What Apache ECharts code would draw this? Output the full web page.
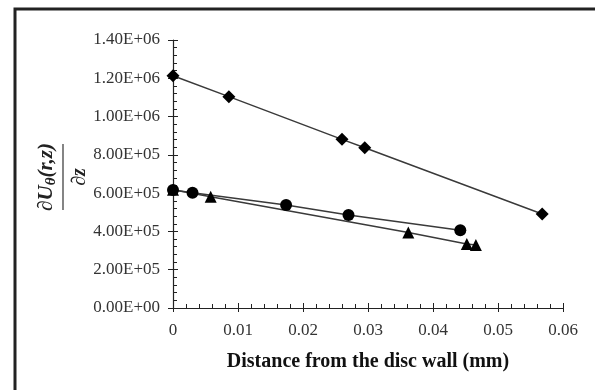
<!DOCTYPE html>
<html>
<head>
<meta charset="utf-8">
<script src="https://cdn.jsdelivr.net/npm/echarts@6/dist/echarts.min.js"></script>
<style>
  html, body { margin: 0; padding: 0; background: #fff; }
  #chart { width: 595px; height: 390px; }
</style>
</head>
<body>
<div id="chart"></div>
<script>
// distance from the wall (mm) and gradient values
var diamondX = [0, 0.0086, 0.0260, 0.0295, 0.0568];
var diamondY = [1.213e6, 1.104e6, 0.881e6, 0.837e6, 0.491e6];
var circleX = [0, 0.0030, 0.0174, 0.0270, 0.0442];
var circleY = [0.616e6, 0.602e6, 0.538e6, 0.486e6, 0.406e6];
var triangleX = [0, 0.0058, 0.0362, 0.0452, 0.0466];
var triangleY = [0.618e6, 0.581e6, 0.394e6, 0.334e6, 0.329e6];
var xTicks = { min: 0, max: 0.06, step: 0.01 };
var yTicks = { min: 0, max: 1.4e6, step: 2e5 };

function pairs(xs, ys) {
    return xs.map(function (x, i) { return [x, ys[i]]; });
}

function sci(v) {
    if (v === 0) return '0.00E+00';
    var e = Math.floor(Math.log10(v) + 1e-9);
    var m = v / Math.pow(10, e);
    return m.toFixed(2) + 'E+' + (e < 10 ? '0' + e : e);
}

var serif = '"Liberation Serif", "DejaVu Serif", serif';
var lineCol = '#3a3a3a';

var myChart = echarts.init(document.getElementById('chart'));

function seriesOf(name, symbol, size, data) {
    return {
        name: name,
        type: 'line',
        data: data,
        symbol: symbol,
        symbolSize: size,
        lineStyle: { color: lineCol, width: 1.5 },
        itemStyle: { color: '#000' },
        animation: false
    };
}

myChart.setOption({
    backgroundColor: '#fff',
    grid: { left: 173, right: 32, top: 40, bottom: 82 },
    xAxis: [
        {
            type: 'value',
            min: xTicks.min, max: xTicks.max, interval: xTicks.step,
            name: 'Distance from the disc wall (mm)',
            nameLocation: 'middle',
            nameGap: 44,
            nameTextStyle: { fontFamily: serif, fontWeight: 'bold', fontSize: 20, color: '#111' },
            axisLine: { lineStyle: { color: '#222', width: 1.2 } },
            axisTick: { inside: true, length: 5, lineStyle: { color: '#222' } },
            minorTick: { show: true, splitNumber: 5, length: 4, lineStyle: { color: '#222' } },
            splitLine: { show: false },
            axisLabel: {
                fontFamily: serif, fontSize: 17, color: '#333', margin: 14,
                formatter: function (v) { return v === 0 ? '0' : v.toFixed(2); }
            }
        },
        {
            type: 'value', position: 'bottom',
            min: xTicks.min, max: xTicks.max, interval: xTicks.step,
            axisLine: { show: false },
            axisTick: { inside: false, length: 4, lineStyle: { color: '#222' } },
            axisLabel: { show: false },
            splitLine: { show: false }
        }
    ],
    yAxis: [
        {
            type: 'value',
            min: yTicks.min, max: yTicks.max, interval: yTicks.step,
            axisLine: { lineStyle: { color: '#222', width: 1.2 } },
            axisTick: { inside: true, length: 5, lineStyle: { color: '#222' } },
            minorTick: { show: true, splitNumber: 5, length: 4, lineStyle: { color: '#222' } },
            splitLine: { show: false },
            axisLabel: { fontFamily: serif, fontSize: 17, color: '#333', margin: 13, formatter: sci }
        },
        {
            type: 'value', position: 'left',
            min: yTicks.min, max: yTicks.max, interval: yTicks.step,
            axisLine: { show: false },
            axisTick: { inside: false, length: 5, lineStyle: { color: '#222' } },
            axisLabel: { show: false },
            splitLine: { show: false }
        }
    ],
    graphic: [
        {
            type: 'rect',
            shape: { x: 15, y: 9, width: 620, height: 420 },
            style: { fill: 'none', stroke: '#222', lineWidth: 3 },
            silent: true
        },
        {
            type: 'group',
            x: 63, y: 177,
            rotation: Math.PI / 2,
            children: [
                {
                    type: 'text',
                    x: 0, y: -16,
                    style: {
                        text: '{a|∂U}{s|θ}{a|(r,z)}',
                        align: 'center', verticalAlign: 'middle',
                        rich: {
                            a: { fontFamily: serif, fontStyle: 'italic', fontWeight: 'bold', fontSize: 21, fill: '#222' },
                            s: { fontFamily: serif, fontStyle: 'italic', fontWeight: 'bold', fontSize: 15, fill: '#222', padding: [9, 0, 0, 0] }
                        }
                    }
                },
                {
                    type: 'line',
                    shape: { x1: -33, y1: 0, x2: 33, y2: 0 },
                    style: { stroke: '#333', lineWidth: 1.2 }
                },
                {
                    type: 'text',
                    x: 0, y: 17,
                    style: {
                        text: '∂z',
                        align: 'center', verticalAlign: 'middle',
                        fontFamily: serif, fontStyle: 'italic', fontWeight: 'bold', fontSize: 20, fill: '#222'
                    }
                }
            ]
        }
    ],
    series: [
        seriesOf('diamond', 'diamond', 13, pairs(diamondX, diamondY)),
        seriesOf('circle', 'circle', 12, pairs(circleX, circleY)),
        seriesOf('triangle', 'triangle', 12, pairs(triangleX, triangleY))
    ]
});
</script>
</body>
</html>
